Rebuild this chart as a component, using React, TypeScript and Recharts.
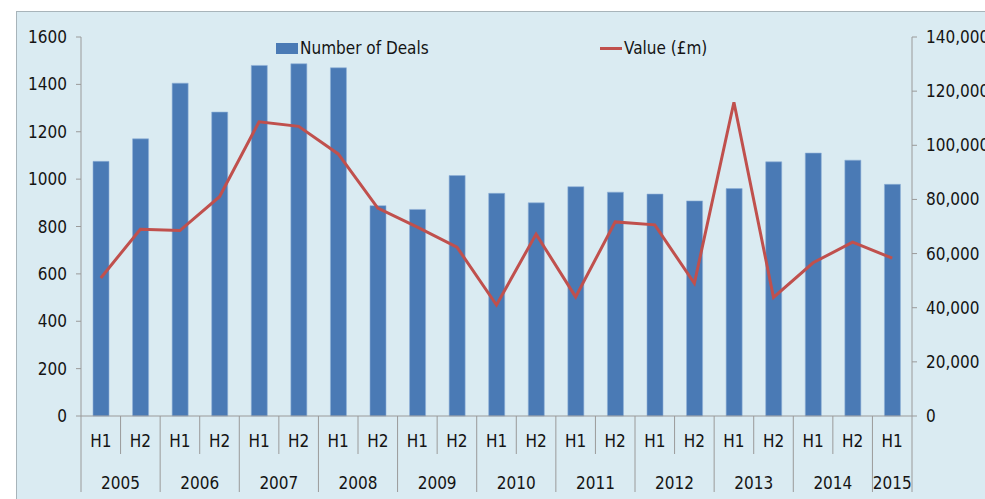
import React from 'react';
import { ComposedChart, Bar, Line, XAxis, YAxis, Legend } from 'recharts';

const periods = ['H1','H2','H1','H2','H1','H2','H1','H2','H1','H2','H1','H2','H1','H2','H1','H2','H1','H2','H1','H2','H1'];
const years = ['2005','2005','2006','2006','2007','2007','2008','2008','2009','2009','2010','2010','2011','2011','2012','2012','2013','2013','2014','2014','2015'];
const deals = [1075,1170,1405,1283,1480,1487,1470,888,872,1015,940,900,968,945,937,908,960,1073,1110,1080,978];
const valueGBP = [51000,69000,68500,81000,108700,107000,96800,76800,69800,62400,41000,67200,44000,71700,70600,49000,115900,43800,56600,64200,58300];
const leftTicks = [0,200,400,600,800,1000,1200,1400,1600];
const rightTicks = [0,20000,40000,60000,80000,100000,120000,140000];

const data = periods.map((p, i) => ({ key: i, period: p, year: years[i], deals: deals[i], value: valueGBP[i] }));

const W = 985;
const H = 499;
const LEFT_W = 81;
const RIGHT_W = 73;
const TOP = 37;
const XAX_H = 83;
const AXIS_Y = H - XAX_H;
const N = periods.length;
const BW = (W - LEFT_W - RIGHT_W) / N;
const FONT = "'Liberation Sans Narrow', 'Arial Narrow', 'DejaVu Sans Condensed', sans-serif";
const TEXT = '#141414';
const GRID = '#9a9a9a';
const BAR = '#4a7ab5';
const LINE = '#c0504d';

const XTick = (props: any) => {
  const { x, index } = props;
  const i = index;
  const left = x - BW / 2;
  const right = x + BW / 2;
  const isYearStart = i === 0 || years[i] !== years[i - 1];
  const isYearEnd = i === N - 1;
  const els: any[] = [];
  els.push(<line key="l" x1={left} x2={left} y1={AXIS_Y} y2={isYearStart ? AXIS_Y + 76 : AXIS_Y + 38} stroke={GRID} strokeWidth={1} />);
  if (isYearEnd) {
    els.push(<line key="r" x1={right} x2={right} y1={AXIS_Y} y2={AXIS_Y + 76} stroke={GRID} strokeWidth={1} />);
  }
  els.push(
    <text key="t" x={x} y={AXIS_Y + 31} textAnchor="middle" fontFamily={FONT} fontSize={17} fill={TEXT}>{periods[i]}</text>
  );
  if (isYearStart) {
    const span = (i + 1 < N && years[i + 1] === years[i]) ? 2 : 1;
    const cx = left + (span * BW) / 2;
    els.push(
      <text key="y" x={cx} y={AXIS_Y + 73} textAnchor="middle" fontFamily={FONT} fontSize={17} fill={TEXT}>{years[i]}</text>
    );
  }
  return <g>{els}</g>;
};

const renderLegend = () => (
  <div style={{ position: 'relative', height: 0, width: W, fontFamily: FONT, fontSize: 17, color: TEXT }}>
    <div style={{ position: 'absolute', left: 276, top: -461, display: 'flex', alignItems: 'center', whiteSpace: 'nowrap' }}>
      <span style={{ display: 'inline-block', width: 22, height: 11, background: BAR, marginRight: 2 }} />
      <span>Number of Deals</span>
    </div>
    <div style={{ position: 'absolute', left: 600, top: -461, display: 'flex', alignItems: 'center', whiteSpace: 'nowrap' }}>
      <span style={{ display: 'inline-block', width: 22, height: 3, background: LINE, marginRight: 2 }} />
      <span>Value (£m)</span>
    </div>
  </div>
);

const fmt = (v: number) => v.toLocaleString('en-US');

export default function App() {
  return (
    <div style={{ position: 'absolute', left: 0, top: 0, width: W, height: H, background: '#ffffff', overflow: 'hidden' }}>
      <div style={{ position: 'absolute', left: 16, top: 11, width: W - 16, height: H - 11, background: '#daebf2', borderTop: '1.5px solid #a8b4ba', borderLeft: '1.5px solid #a8b4ba', boxSizing: 'border-box' }} />
      <div style={{ position: 'absolute', left: 0, top: 0 }}>
        <ComposedChart width={W} height={H} data={data} margin={{ top: TOP, right: 0, left: 0, bottom: 0 }} barCategoryGap={0}>
          <XAxis
            xAxisId="x"
            dataKey="key"
            type="category"
            height={XAX_H}
            axisLine={{ stroke: GRID }}
            tickLine={false}
            interval={0}
            tick={<XTick />}
          />
          <YAxis
            yAxisId="left"
            orientation="left"
            width={LEFT_W}
            domain={[0, 1600]}
            ticks={leftTicks}
            interval={0}
            axisLine={{ stroke: GRID }}
            tickLine={{ stroke: GRID }}
            tickSize={5}
            tickMargin={9}
            tick={{ fontFamily: FONT, fontSize: 17, fill: TEXT }}
          />
          <YAxis
            yAxisId="right"
            orientation="right"
            width={RIGHT_W}
            domain={[0, 140000]}
            ticks={rightTicks}
            interval={0}
            axisLine={{ stroke: GRID }}
            tickLine={{ stroke: GRID }}
            tickSize={5}
            tickMargin={9}
            tickFormatter={fmt}
            tick={{ fontFamily: FONT, fontSize: 17, fill: TEXT }}
          />
          <Legend content={renderLegend} verticalAlign="bottom" wrapperStyle={{ left: 0, bottom: 0, width: W, height: 0 }} />
          <Bar xAxisId="x" yAxisId="left" dataKey="deals" name="Number of Deals" fill={BAR} stroke="#8fb0d6" strokeWidth={0.6} barSize={16} isAnimationActive={false} />
          <Line xAxisId="x" yAxisId="right" dataKey="value" name="Value (£m)" stroke={LINE} strokeWidth={3} dot={false} activeDot={false} type="linear" isAnimationActive={false} />
        </ComposedChart>
      </div>
    </div>
  );
}
